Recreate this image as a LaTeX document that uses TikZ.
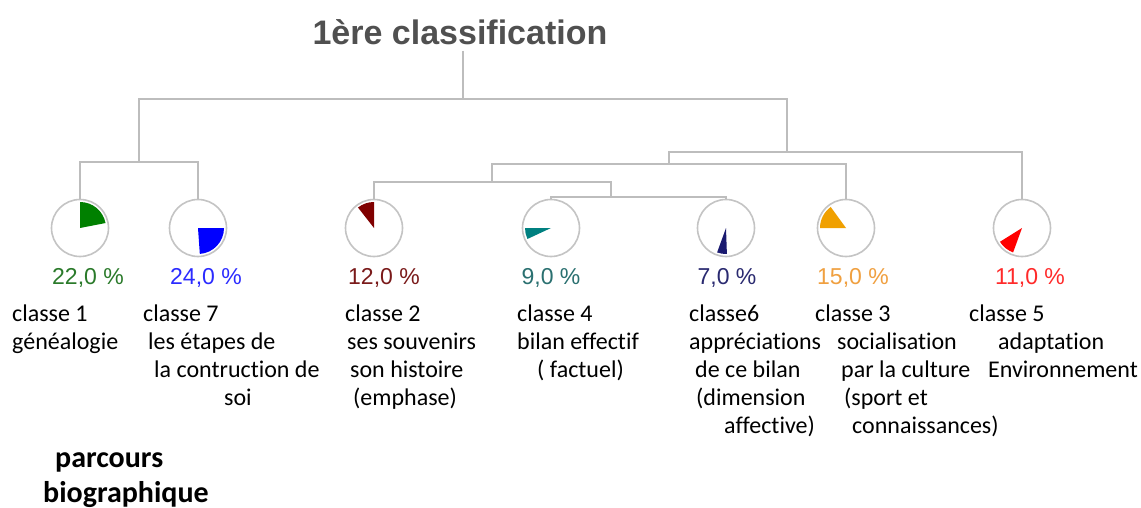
\documentclass[tikz,border=0pt]{standalone}
\usepackage{fontspec}
\setmainfont{Carlito}[Ligatures={NoCommon,NoRare}]
\newfontfamily\arialfont{Liberation Sans}
\definecolor{linkgray}{HTML}{BDBDBD}
\definecolor{piegray}{HTML}{C4C4C4}
\definecolor{titlegray}{HTML}{505050}
\definecolor{cgreen}{HTML}{008000}
\definecolor{cblue}{HTML}{0000FF}
\definecolor{cmaroon}{HTML}{800000}
\definecolor{cteal}{HTML}{008080}
\definecolor{cnavy}{HTML}{1A1A70}
\definecolor{corange}{HTML}{F0A000}
\definecolor{cred}{HTML}{FF0000}
\definecolor{tgreen}{HTML}{2A7A2A}
\definecolor{tblue}{HTML}{2B2BFF}
\definecolor{tmaroon}{HTML}{7A1A1A}
\definecolor{tteal}{HTML}{2A7070}
\definecolor{tnavy}{HTML}{2A2A70}
\definecolor{torange}{HTML}{F0A040}
\definecolor{tred}{HTML}{FF2A2A}
\newcommand{\pieslice}[4]{\fill[#1] (#2.center) -- ++(#3:26pt) arc[start angle=#3, end angle=#4, radius=26pt] -- cycle;}
\begin{document}
\begin{tikzpicture}[x=1pt,y=-1pt,
  link/.style={draw=linkgray, line width=2.4pt},
  pie/.style={circle, draw=piegray, line width=1.6pt, minimum size=57pt, inner sep=0pt},
  pct/.style={font=\arialfont\fontsize{23}{23}\selectfont, anchor=center, inner sep=0pt},
  lbl/.style={font=\fontsize{24}{28}\selectfont, anchor=base west, inner sep=0pt, text=black},
  blbl/.style={font=\bfseries\fontsize{30}{36}\selectfont, anchor=base west, inner sep=0pt},
  ttl/.style={font=\arialfont\bfseries\fontsize{34}{34}\selectfont, text=titlegray, inner sep=0pt}]
\useasboundingbox[fill=white] (0,0) rectangle (1141,508);

% title
\node[ttl] (title) at (460,32) {1ère classification};

% pie circles
\node[pie] (c1) at (80,228) {};
\node[pie] (c7) at (198,228) {};
\node[pie] (c2) at (374,228) {};
\node[pie] (c4) at (551,228) {};
\node[pie] (c6) at (726,228) {};
\node[pie] (c3) at (846,228) {};
\node[pie] (c5) at (1022,228) {};

% wedges
\pieslice{cgreen}{c1}{90}{11}
\pieslice{cblue}{c7}{0}{-86}
\pieslice{cmaroon}{c2}{90}{128}
\pieslice{cteal}{c4}{180}{205}
\pieslice{cnavy}{c6}{250}{272}
\pieslice{corange}{c3}{126}{180}
\pieslice{cred}{c5}{212}{250}

% dendrogram junctions
\coordinate (r0) at (463,99);
\coordinate (jA) at (139,162);
\coordinate (jB) at (787,152);
\coordinate (jC) at (669,164);
\coordinate (jD) at (492,182);
\coordinate (jE) at (611,197);

\draw[link] ([yshift=-6pt]title.south -| r0) -- (r0);
\draw[link] (c1.north) |- (jA) -| (c7.north);
\draw[link] (jA) |- (r0) -| (jB);
\draw[link] (jC) |- (jB) -| (c5.north);
\draw[link] (jD) |- (jC) -| (c3.north);
\draw[link] (c2.north) |- (jD) -| (jE);
\draw[link] (c4.north) |- (jE) -| (c6.north);

% percentages
\node[pct, text=tgreen] (p1) at (88,278) {22,0 \%};
\node[pct, text=tblue] (p7) at (206,278) {24,0 \%};
\node[pct, text=tmaroon] (p2) at (384,278) {12,0 \%};
\node[pct, text=tteal] (p4) at (551,278) {9,0 \%};
\node[pct, text=tnavy] (p6) at (727,278) {7,0 \%};
\node[pct, text=torange] (p3) at (853,278) {15,0 \%};
\node[pct, text=tred] (p5) at (1030,278) {11,0 \%};

% class labels
\node[lbl] (l1a) at (12,321) {classe 1};
\node[lbl] (l1b) at (12,349) {généalogie};

\node[lbl] (l7a) at (143,321) {classe 7};
\node[lbl] (l7b) at (148,349) {les étapes de};
\node[lbl] (l7c) at (154,377) {la contruction de};
\node[lbl] (l7d) at (224,405) {soi};

\node[lbl] (l2a) at (345,321) {classe 2};
\node[lbl] (l2b) at (347,349) {ses souvenirs};
\node[lbl] (l2c) at (350,377) {son histoire};
\node[lbl] (l2d) at (353,405) {(emphase)};

\node[lbl] (l4a) at (517,321) {classe 4};
\node[lbl] (l4b) at (517,349) {bilan effectif};
\node[lbl] (l4c) at (537,377) {( factuel)};

\node[lbl] (l6a) at (689,321) {classe6};
\node[lbl] (l6b) at (689,349) {appréciations};
\node[lbl] (l6c) at (695,377) {de ce bilan};
\node[lbl] (l6d) at (696,405) {(dimension};
\node[lbl] (l6e) at (724,433) {affective)};

\node[lbl] (l3a) at (815,321) {classe 3};
\node[lbl] (l3b) at (837,349) {socialisation};
\node[lbl] (l3c) at (841,377) {par la culture};
\node[lbl] (l3d) at (844,405) {(sport et};
\node[lbl] (l3e) at (852,433) {connaissances)};

\node[lbl] (l5a) at (969,321) {classe 5};
\node[lbl] (l5b) at (998,349) {adaptation};
\node[lbl] (l5c) at (988,377) {Environnement};

% bottom caption
\node[blbl] (cap1) at (55,467) {parcours};
\node[blbl] (cap2) at (43,502) {biographique};
\end{tikzpicture}
\end{document}
